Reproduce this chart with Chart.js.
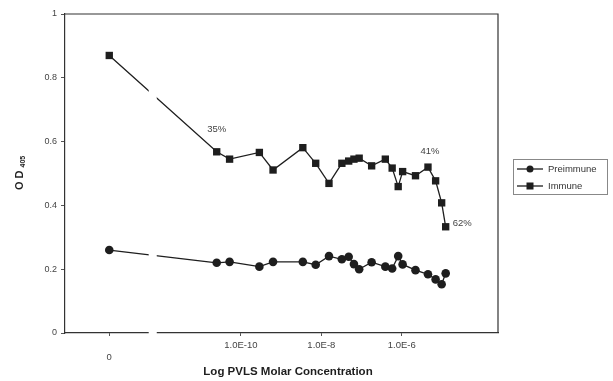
<!DOCTYPE html>
<html>
<head>
<meta charset="utf-8">
<script src="https://cdn.jsdelivr.net/npm/chart.js@4.4.1/dist/chart.umd.min.js"></script>
<style>
  html, body { margin: 0; padding: 0; background: #fff; }
  #wrap { width: 613px; height: 381px; }
</style>
</head>
<body>
<div id="wrap"><canvas id="c" width="613" height="381"></canvas></div>
<script>
// Log10 of PVLS molar concentration for each dilution; the zero-concentration
// control is plotted at a fixed position left of the axis break.
const ZERO_POS = -13.27;
const logConc = [-10.60, -10.28, -9.54, -9.20, -8.46, -8.14, -7.81, -7.49, -7.32, -7.19,
                 -7.06, -6.75, -6.41, -6.24, -6.09, -5.98, -5.66, -5.35, -5.16, -5.01, -4.91];

// OD405 readings: first value is the zero-concentration control
const preimmune = [0.260, 0.220, 0.223, 0.208, 0.223, 0.223, 0.214, 0.241, 0.231, 0.239, 0.216,
                   0.200, 0.222, 0.208, 0.202, 0.241, 0.215, 0.197, 0.184, 0.168, 0.153, 0.187];
const immune    = [0.870, 0.568, 0.545, 0.566, 0.511, 0.581, 0.532, 0.469, 0.532, 0.539, 0.545,
                   0.548, 0.524, 0.545, 0.517, 0.459, 0.506, 0.493, 0.520, 0.477, 0.408, 0.333];

// x-axis tick positions and their labels
const xTickValues = [ZERO_POS, -10, -8, -6];
const xTickLabels = ['0', '1.0E-10', '1.0E-8', '1.0E-6'];

// Inhibition percentages written next to Immune points (index into immune[])
const pctNotes = [
  { idx: 1,  text: '35%', dx: 0,  dy: -22, align: 'center' },
  { idx: 18, text: '41%', dx: 2,  dy: -16, align: 'center' },
  { idx: 21, text: '62%', dx: 7,  dy: -3,  align: 'left' }
];

const xAll = [ZERO_POS].concat(logConc);
const toPoints = ys => ys.map((y, i) => ({ x: xAll[i], y: y }));

const INK = '#1e1e1e';
const FONT = '"Liberation Sans", Arial, sans-serif';

const framePlugin = {
  id: 'frame',
  afterDatasetsDraw(chart) {
    const { ctx, chartArea: a, scales } = chart;
    ctx.save();
    // axis break on the x axis and through the connecting lines
    const g1 = scales.x.getPixelForValue(-12.29);
    const g2 = scales.x.getPixelForValue(-12.09);
    ctx.fillStyle = '#fff';
    ctx.fillRect(g1, a.top + 3, g2 - g1, a.bottom - a.top + 2);
    // top and right sides of the plot frame
    ctx.strokeStyle = '#333';
    ctx.lineWidth = 1.2;
    ctx.beginPath();
    ctx.moveTo(a.left, a.top);
    ctx.lineTo(a.right, a.top);
    ctx.lineTo(a.right, a.bottom);
    ctx.stroke();

    // percentage notes
    const meta = chart.getDatasetMeta(1);
    ctx.fillStyle = '#444';
    ctx.font = '9.5px ' + FONT;
    ctx.textBaseline = 'middle';
    pctNotes.forEach(n => {
      const el = meta.data[n.idx];
      ctx.textAlign = n.align;
      ctx.fillText(n.text, el.x + n.dx, el.y + n.dy);
    });

    // axis titles
    ctx.fillStyle = INK;
    ctx.textAlign = 'center';
    ctx.font = 'bold 11.5px ' + FONT;
    ctx.fillText('Log PVLS Molar Concentration', 288, 372);

    ctx.save();
    ctx.translate(20, 178);
    ctx.rotate(-Math.PI / 2);
    ctx.textAlign = 'left';
    ctx.font = 'bold 11px ' + FONT;
    const od = 'O D';
    const w = ctx.measureText(od).width;
    ctx.fillText(od, -12, 0);
    ctx.font = 'bold 7px ' + FONT;
    ctx.fillText('405', -12 + w + 3, 3);
    ctx.restore();

    // legend
    const lx = 513, ly = 159, lw = 94, lh = 35;
    ctx.strokeStyle = '#888';
    ctx.lineWidth = 1;
    ctx.strokeRect(lx + 0.5, ly + 0.5, lw, lh);
    const rows = [
      { label: 'Preimmune', style: 'circle', y: ly + 10 },
      { label: 'Immune', style: 'rect', y: ly + 27 }
    ];
    rows.forEach(r => {
      ctx.strokeStyle = INK;
      ctx.lineWidth = 1.3;
      ctx.beginPath();
      ctx.moveTo(lx + 4, r.y);
      ctx.lineTo(lx + 30, r.y);
      ctx.stroke();
      ctx.fillStyle = INK;
      if (r.style === 'circle') {
        ctx.beginPath();
        ctx.arc(lx + 17, r.y, 3.5, 0, Math.PI * 2);
        ctx.fill();
      } else {
        ctx.fillRect(lx + 13.5, r.y - 3.5, 7, 7);
      }
      ctx.fillStyle = '#333';
      ctx.font = '9.5px ' + FONT;
      ctx.textAlign = 'left';
      ctx.textBaseline = 'middle';
      ctx.fillText(r.label, lx + 35, r.y + 0.5);
    });
    ctx.restore();
  }
};

new Chart(document.getElementById('c'), {
  type: 'line',
  data: {
    datasets: [
      {
        label: 'Preimmune',
        data: toPoints(preimmune),
        borderColor: INK,
        backgroundColor: INK,
        borderWidth: 1.3,
        pointStyle: 'circle',
        pointRadius: 4.3,
        pointBorderWidth: 0,
        tension: 0
      },
      {
        label: 'Immune',
        data: toPoints(immune),
        borderColor: INK,
        backgroundColor: INK,
        borderWidth: 1.3,
        pointStyle: 'rect',
        pointRadius: 5.2,
        pointBorderWidth: 0,
        tension: 0
      }
    ]
  },
  options: {
    responsive: false,
    animation: false,
    devicePixelRatio: 1,
    layout: { padding: { left: 0, right: 115, top: 14, bottom: 0 } },
    plugins: { legend: { display: false }, tooltip: { enabled: false } },
    scales: {
      x: {
        type: 'linear',
        min: -14.37,
        max: -3.61,
        afterFit(s) { s.height = 48; },
        afterBuildTicks(s) { s.ticks = xTickValues.map(v => ({ value: v })); },
        border: { display: true, color: '#333', width: 1.2 },
        grid: { display: true, drawOnChartArea: false, drawTicks: true, tickLength: 3, color: '#555' },
        ticks: {
          autoSkip: false,
          maxRotation: 0,
          padding: 4,
          color: '#444',
          font: { family: FONT, size: 9.5 },
          callback(v) {
            const i = xTickValues.indexOf(v);
            if (i === 0) return ['', xTickLabels[0]];
            return i >= 0 ? xTickLabels[i] : '';
          }
        }
      },
      y: {
        min: 0,
        max: 1,
        afterFit(s) { s.width = 65; },
        border: { display: true, color: '#333', width: 1.2 },
        grid: { display: true, drawOnChartArea: false, drawTicks: true, tickLength: 4, color: '#555' },
        ticks: {
          stepSize: 0.2,
          padding: 4,
          color: '#444',
          font: { family: FONT, size: 9 },
          callback: v => String(Math.round(v * 10) / 10)
        }
      }
    }
  },
  plugins: [framePlugin]
});
</script>
</body>
</html>
